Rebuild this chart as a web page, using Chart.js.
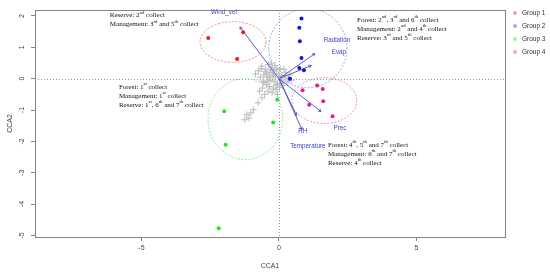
<!DOCTYPE html>
<html>
<head>
<meta charset="utf-8">
<script src="https://cdn.jsdelivr.net/npm/chart.js@4.4.0/dist/chart.umd.min.js"></script>
<style>
  html, body { margin: 0; padding: 0; background: #fff; }
</style>
</head>
<body>
<canvas id="cca" width="550" height="274"></canvas>
<script>
// sites per group (CCA1, CCA2)
const groupNames = ["Group 1", "Group 2", "Group 3", "Group 4"];
const g1X = [-2.57, -1.30, -1.52];
const g1Y = [1.30, 1.48, 0.63];
const g2X = [0.82, 0.74, 0.76, 0.82, 0.74, 0.91, 0.40];
const g2Y = [1.92, 1.62, 1.19, 0.66, 0.34, 0.27, 0.00];
const g3X = [-1.99, -0.06, -0.21, -1.94, -2.19];
const g3Y = [-1.04, -0.67, -1.40, -2.11, -4.77];
const g4X = [0.86, 1.39, 1.59, 1.61, 1.10, 1.95];
const g4Y = [-0.37, -0.22, -0.33, -0.72, -0.83, -1.20];

// species scores (grey crosses)
const speciesX = [-0.75, -0.62, -0.55, -0.48, -0.42, -0.38, -0.33, -0.30, -0.25, -0.22,
  -0.18, -0.15, -0.12, -0.08, -0.05, 0.00, 0.05, 0.10, 0.15, 0.22,
  0.30, 0.40, -0.68, -0.58, -0.50, -0.45, -0.35, -0.28, -0.20, -0.10,
  0.02, 0.12, -0.40, -0.25, -0.05, -0.60, -0.85, -0.52, -0.62, -0.76,
  -0.93, -1.02, -1.09, -1.17, -1.24, -0.70, -0.45, -0.35, -0.20, -0.10,
  0.05, 0.25, 0.35, 0.45, -0.55, -0.30, -0.15, 0.08, 0.18, -0.40,
  -0.65];
const speciesY = [0.25, 0.40, 0.12, 0.30, 0.05, 0.45, 0.20, -0.05, 0.35, 0.10,
  0.25, -0.10, 0.05, 0.30, -0.20, 0.15, -0.05, 0.10, -0.15, 0.05,
  -0.10, 0.12, 0.05, -0.08, 0.22, -0.18, -0.25, 0.50, -0.30, -0.35,
  -0.28, -0.22, -0.40, -0.45, -0.50, -0.30, 0.15, -0.50, -0.61, -0.77,
  -0.99, -1.09, -1.26, -1.15, -1.31, -0.40, 0.15, 0.05, 0.15, -0.20,
  0.32, 0.20, 0.00, -0.05, -0.12, 0.28, 0.42, -0.15, 0.30, -0.08,
  0.32];

// environmental vectors
const envNames = ["Wind_vel", "Radiation", "Evap", "Prec", "RH", "Temperature"];
const envX = [-1.42, 1.31, 1.18, 1.53, 0.84, 0.64];
const envY = [1.65, 0.80, 0.42, -1.05, -1.63, -1.17];
const envLabelX = [-2.0, 2.11, 2.18, 2.22, 0.87, 1.05];
const envLabelY = [2.12, 1.21, 0.83, -1.57, -1.68, -2.14];

// group ellipses (centre and radii in axis units)
const ellCx = [-1.67, 1.05, -1.22, 1.65];
const ellCy = [1.17, 0.97, -1.29, -0.70];
const ellRx = [1.20, 1.42, 1.36, 1.18];
const ellRy = [0.65, 1.26, 1.29, 0.73];

const xTicks = [-5, 0, 5];
const yTicks = [-5, -4, -3, -2, -1, 0, 1, 2];

// annotation blocks
const noteX = [-6.15, 2.84, -5.82, 1.78];
const noteY = [2.01, 1.88, -0.26, -2.11];
const noteLines = [
  ["Reserve: 2{nd} collect", "Management: 3{rd} and 5{th} collect"],
  ["Forest: 2{nd}, 3{rd} and 6{th} collect", "Management: 2{nd} and 4{th} collect", "Reserve: 3{rd} and 5{th} collect"],
  ["Forest: 1{st} collect", "Management: 1{st} collect", "Reserve: 1{st}, 6{th} and 7{th} collect"],
  ["Forest: 4{th}, 5{th} and 7{th} collect", "Management: 6{th} and 7{th} collect", "Reserve: 4{th} collect"]
];

const pointColors = ["#e8211f", "#1414e0", "#1fe61f", "#ec1a88"];
const ellColors = ["#f08c8c", "#84b6e2", "#92ea92", "#f28cb8"];
const legendColors = ["#f4a3a3", "#a9a9ef", "#a6f0a6", "#f2a6d2"];
const arrowColor = "#5c5cd2";

const toPts = (xs, ys) => xs.map((x, i) => ({ x: x, y: ys[i] }));

function richText(ctx, str, x, y, size) {
  const parts = str.split(/(\{[^}]*\})/);
  let cx = x;
  parts.forEach(p => {
    if (!p) return;
    if (p[0] === "{") {
      const t = p.slice(1, -1);
      ctx.font = (size * 0.68) + "px 'Liberation Serif', 'Times New Roman', serif";
      ctx.fillText(t, cx, y - size * 0.38);
      cx += ctx.measureText(t).width;
    } else {
      ctx.font = size + "px 'Liberation Serif', 'Times New Roman', serif";
      ctx.fillText(p, cx, y);
      cx += ctx.measureText(p).width;
    }
  });
}

const ccaDecor = {
  id: "ccaDecor",
  beforeDatasetsDraw(chart) {
    const { ctx, chartArea: a, scales: { x, y } } = chart;
    ctx.save();
    ctx.beginPath();
    ctx.rect(a.left, a.top, a.right - a.left, a.bottom - a.top);
    ctx.clip();
    // zero lines
    ctx.strokeStyle = "#9a9a9a";
    ctx.lineWidth = 1;
    ctx.setLineDash([1, 2]);
    const x0 = Math.round(x.getPixelForValue(0)) + 0.5;
    const y0 = Math.round(y.getPixelForValue(0)) + 0.5;
    ctx.beginPath();
    ctx.moveTo(x0, a.top); ctx.lineTo(x0, a.bottom);
    ctx.moveTo(a.left, y0); ctx.lineTo(a.right, y0);
    ctx.stroke();
    // ellipses
    ctx.setLineDash([2, 1.5]);
    ellCx.forEach((cx, i) => {
      const px = x.getPixelForValue(cx);
      const py = y.getPixelForValue(ellCy[i]);
      const rx = Math.abs(x.getPixelForValue(cx + ellRx[i]) - px);
      const ry = Math.abs(y.getPixelForValue(ellCy[i] + ellRy[i]) - py);
      ctx.strokeStyle = ellColors[i];
      ctx.beginPath();
      ctx.ellipse(px, py, rx, ry, 0, 0, Math.PI * 2);
      ctx.stroke();
    });
    ctx.restore();
  },
  afterDatasetsDraw(chart) {
    const { ctx, scales: { x, y } } = chart;
    ctx.save();
    // arrow heads + labels
    const ox = x.getPixelForValue(0), oy = y.getPixelForValue(0);
    ctx.strokeStyle = arrowColor;
    ctx.lineWidth = 1;
    envX.forEach((ex, i) => {
      const px = x.getPixelForValue(ex), py = y.getPixelForValue(envY[i]);
      const ang = Math.atan2(py - oy, px - ox);
      ctx.beginPath();
      ctx.moveTo(px - 3 * Math.cos(ang - 0.5), py - 3 * Math.sin(ang - 0.5));
      ctx.lineTo(px, py);
      ctx.lineTo(px - 3 * Math.cos(ang + 0.5), py - 3 * Math.sin(ang + 0.5));
      ctx.stroke();
    });
    ctx.fillStyle = "#3d3dd0";
    ctx.font = "6.3px 'Liberation Sans', Arial, sans-serif";
    ctx.textAlign = "center";
    ctx.textBaseline = "middle";
    envNames.forEach((n, i) => {
      ctx.fillText(n, x.getPixelForValue(envLabelX[i]), y.getPixelForValue(envLabelY[i]));
    });
    // notes
    ctx.fillStyle = "#111";
    ctx.textAlign = "left";
    noteLines.forEach((lines, b) => {
      const bx = x.getPixelForValue(noteX[b]);
      const by = y.getPixelForValue(noteY[b]);
      lines.forEach((s, k) => richText(ctx, s, bx, by + k * 9, 7));
    });
    ctx.restore();
  },
  afterDraw(chart) {
    const { ctx, chartArea: a, scales: { y } } = chart;
    ctx.save();
    // box
    ctx.strokeStyle = "#858585";
    ctx.lineWidth = 1;
    ctx.strokeRect(Math.round(a.left) + 0.5, Math.round(a.top) + 0.5,
      Math.round(a.right - a.left), Math.round(a.bottom - a.top));
    // rotated y tick labels
    ctx.fillStyle = "#444";
    ctx.font = "7px 'Liberation Sans', Arial, sans-serif";
    ctx.textAlign = "center";
    ctx.textBaseline = "middle";
    yTicks.forEach(v => {
      ctx.save();
      ctx.translate(22, y.getPixelForValue(v));
      ctx.rotate(-Math.PI / 2);
      ctx.fillText(String(v), 0, 0);
      ctx.restore();
    });
    // axis titles
    ctx.fillText("CCA1", (a.left + a.right) / 2, 266);
    ctx.save();
    ctx.translate(10, (a.top + a.bottom) / 2);
    ctx.rotate(-Math.PI / 2);
    ctx.fillText("CCA2", 0, 0);
    ctx.restore();
    // legend
    ctx.textAlign = "left";
    ctx.font = "6.5px 'Liberation Sans Narrow', 'Liberation Sans', Arial, sans-serif";
    groupNames.forEach((g, i) => {
      const ly = 13 + i * 13;
      ctx.fillStyle = legendColors[i];
      ctx.beginPath();
      ctx.arc(515, ly, 2, 0, Math.PI * 2);
      ctx.fill();
      ctx.fillStyle = "#333";
      ctx.fillText(g, 522, ly);
    });
    ctx.restore();
  }
};

const groupX = [g1X, g2X, g3X, g4X];
const groupY = [g1Y, g2Y, g3Y, g4Y];

const datasets = [];
groupNames.forEach((g, i) => {
  datasets.push({
    label: g,
    data: toPts(groupX[i], groupY[i]),
    backgroundColor: pointColors[i],
    borderWidth: 0,
    pointRadius: 2,
    order: 1
  });
});
envNames.forEach((n, i) => {
  datasets.push({
    label: n,
    data: [{ x: 0, y: 0 }, { x: envX[i], y: envY[i] }],
    showLine: true,
    borderColor: arrowColor,
    borderWidth: 1,
    pointRadius: 0,
    order: 3
  });
});
datasets.push({
  label: "species",
  data: toPts(speciesX, speciesY),
  pointStyle: "cross",
  pointRadius: 3.4,
  borderColor: "#bcbcbc",
  borderWidth: 1,
  order: 5
});

new Chart(document.getElementById("cca"), {
  type: "scatter",
  data: { datasets: datasets },
  options: {
    responsive: false,
    animation: false,
    layout: { padding: { left: 0, right: 45, top: 10, bottom: 0 } },
    plugins: { legend: { display: false }, tooltip: { enabled: false } },
    scales: {
      x: {
        type: "linear",
        min: -8.87,
        max: 8.22,
        afterFit(s) { s.height = 37; },
        afterBuildTicks(s) { s.ticks = xTicks.map(v => ({ value: v })); },
        ticks: { color: "#444", font: { size: 7, family: "'Liberation Sans', Arial, sans-serif" }, padding: 3, maxRotation: 0 },
        grid: { drawOnChartArea: false, drawTicks: true, tickLength: 4, color: "#858585" },
        border: { display: false }
      },
      y: {
        type: "linear",
        min: -5.05,
        max: 2.19,
        afterFit(s) { s.width = 35; },
        afterBuildTicks(s) { s.ticks = yTicks.map(v => ({ value: v })); },
        ticks: { color: "rgba(0,0,0,0)", font: { size: 7 } },
        grid: { drawOnChartArea: false, drawTicks: true, tickLength: 4, color: "#858585" },
        border: { display: false }
      }
    }
  },
  plugins: [ccaDecor]
});
</script>
</body>
</html>
